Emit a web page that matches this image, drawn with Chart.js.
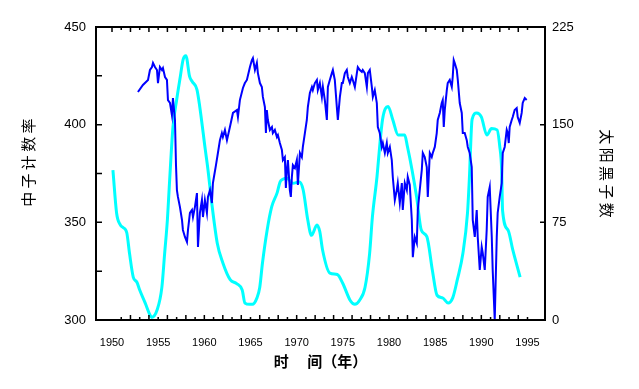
<!DOCTYPE html>
<html>
<head>
<meta charset="utf-8">
<script src="https://cdn.jsdelivr.net/npm/chart.js@4.4.1/dist/chart.umd.min.js"></script>
<style>
html,body{margin:0;padding:0;background:#fff;}
canvas{display:block;}
</style>
</head>
<body>
<canvas id="c" width="639" height="389"></canvas>
<script>
// ---- data ----
const xTickValues = [1950,1955,1960,1965,1970,1975,1980,1985,1990,1995];
const xTickLabels = ['1950','1955','1960','1965','1970','1975','1980','1985','1990','1995'];
const leftTickValues = [300,350,400,450];
const rightTickValues = [0,75,150,225];

const neutronYears = [1952.81,1953.35,1953.90,1954.11,1954.33,1954.44,1954.65,1954.87,1954.98,1955.19,1955.41,1955.52,1955.74,1955.95,1956.06,1956.28,1956.49,1956.60,1956.82,1956.93,1957.03,1957.14,1957.36,1957.58,1957.68,1957.90,1958.12,1958.23,1958.44,1958.66,1958.77,1958.98,1959.20,1959.31,1959.52,1959.74,1959.85,1960.06,1960.28,1960.39,1960.61,1960.82,1960.93,1961.04,1961.26,1961.47,1961.69,1961.90,1962.01,1962.23,1962.45,1962.77,1963.10,1963.53,1963.64,1963.85,1964.18,1964.39,1964.61,1964.94,1965.15,1965.26,1965.48,1965.69,1965.80,1966.02,1966.23,1966.34,1966.56,1966.67,1966.77,1966.88,1967.10,1967.32,1967.42,1967.64,1967.86,1967.97,1968.18,1968.40,1968.51,1968.72,1968.83,1968.94,1969.05,1969.26,1969.37,1969.48,1969.59,1969.81,1970.02,1970.13,1970.35,1970.56,1970.67,1970.89,1971.10,1971.21,1971.43,1971.65,1971.75,1971.97,1972.19,1972.29,1972.51,1972.73,1972.84,1973.05,1973.27,1973.38,1973.59,1973.81,1973.92,1974.13,1974.35,1974.46,1974.68,1974.89,1975.00,1975.22,1975.43,1975.54,1975.76,1975.97,1976.08,1976.30,1976.52,1976.62,1976.84,1977.06,1977.16,1977.38,1977.60,1977.71,1977.92,1978.14,1978.25,1978.46,1978.68,1978.79,1979.00,1979.22,1979.33,1979.55,1979.76,1979.87,1980.09,1980.30,1980.41,1980.63,1980.84,1980.95,1981.17,1981.39,1981.49,1981.71,1981.93,1982.03,1982.25,1982.47,1982.58,1982.79,1983.01,1983.12,1983.33,1983.55,1983.66,1983.87,1984.09,1984.20,1984.42,1984.63,1984.74,1984.96,1985.17,1985.28,1985.50,1985.71,1985.82,1985.93,1986.04,1986.26,1986.36,1986.58,1986.80,1986.90,1987.01,1987.12,1987.34,1987.45,1987.66,1987.88,1987.99,1988.20,1988.42,1988.53,1988.74,1988.96,1989.07,1989.29,1989.50,1989.61,1989.83,1990.04,1990.15,1990.37,1990.58,1990.69,1990.91,1991.13,1991.23,1991.45,1991.67,1991.77,1991.99,1992.21,1992.32,1992.53,1992.75,1992.86,1992.97,1993.07,1993.29,1993.40,1993.61,1993.83,1993.94,1994.16,1994.37,1994.48,1994.70,1994.91];
const neutronRate = [416.7,420.3,422.9,428.0,429.5,431.6,429.5,428.0,421.3,429.5,428.0,429.0,424.4,422.9,412.6,411.1,404.9,413.6,402.4,379.3,366.5,363.0,357.8,351.2,346.1,342.5,339.9,346.1,354.8,356.3,352.7,357.8,365.0,337.4,354.8,361.4,352.7,361.4,354.8,363.0,366.5,359.9,370.1,373.2,379.3,385.5,392.1,395.7,393.7,397.3,392.1,398.8,406.0,407.5,403.9,412.6,418.8,421.3,422.9,429.5,433.1,434.1,428.0,431.6,426.4,421.3,419.3,414.2,409.0,395.7,407.5,402.4,397.3,398.8,395.7,397.3,393.7,394.7,390.6,387.0,381.9,383.4,367.6,376.8,381.9,366.5,363.0,373.2,379.3,377.8,381.9,369.1,385.5,383.4,388.6,395.7,402.4,409.0,416.2,419.3,417.7,421.3,422.9,417.7,421.3,414.2,419.3,412.6,402.4,419.3,422.9,426.4,428.0,422.9,409.0,402.4,414.2,421.3,421.3,426.4,428.0,424.4,421.3,424.4,422.9,419.3,426.4,429.5,428.0,427.0,428.0,426.4,419.3,426.4,428.0,419.3,414.2,417.7,411.1,398.8,395.7,388.6,390.6,385.5,390.6,385.5,388.6,381.9,373.2,361.4,366.5,370.1,359.9,370.1,356.3,370.1,366.5,373.2,369.1,351.2,332.2,342.5,339.4,356.3,366.5,376.8,385.5,383.4,378.3,363.0,385.5,383.4,385.5,388.6,395.7,402.4,406.0,411.1,412.6,398.8,407.5,417.7,421.3,422.9,419.3,424.4,433.1,431.6,428.0,422.9,411.1,406.0,395.7,395.7,392.1,388.6,385.5,378.3,351.2,342.5,356.3,342.5,325.6,337.4,334.3,325.6,346.1,363.0,368.1,342.5,325.6,300.0,342.5,354.8,363.0,370.1,385.5,388.6,397.3,395.7,390.6,398.8,402.4,403.9,407.5,408.5,403.9,400.9,406.0,411.1,413.6,412.6];

const sunspotYears = [1950.1,1950.5,1950.9,1951.2,1951.6,1951.9,1952.3,1952.7,1953.0,1953.6,1954.1,1954.3,1954.9,1955.4,1955.7,1956.0,1956.2,1956.6,1957.0,1957.4,1957.7,1958.0,1958.4,1958.7,1959.2,1959.5,1960.1,1960.4,1960.8,1961.4,1962.0,1962.8,1963.5,1964.1,1964.4,1964.9,1965.2,1965.7,1966.0,1966.3,1966.8,1967.3,1967.9,1968.2,1968.5,1968.9,1969.6,1970.3,1970.7,1971.2,1971.6,1972.2,1972.5,1972.8,1973.6,1974.4,1975.0,1975.8,1976.3,1976.8,1977.4,1977.9,1978.2,1978.7,1978.8,1979.3,1979.9,1980.4,1981.0,1981.7,1982.0,1982.5,1983.0,1983.5,1984.1,1984.7,1985.2,1985.8,1986.4,1986.9,1987.4,1988.0,1988.5,1988.7,1989.0,1989.5,1990.0,1990.6,1991.1,1991.7,1992.0,1992.2,1992.3,1992.9,1993.4,1994.2];
const sunspotNumber = [115,82,73,71,67,51,33,29,23,13,4,2,8,25,51,77,102,148,169,187,200,203,187,183,177,164,131,115,90,59,44,31,28,23,13,12,12,17,25,44,69,87,98,106,108,109,105,106,100,77,65,73,68,54,36,35,28,15,12,15,25,51,79,110,118,154,164,154,142,142,133,115,94,69,64,38,19,17,13,17,31,51,82,108,154,159,156,142,147,146,133,115,84,69,54,33];

const neutronPoints = neutronYears.map((x, i) => ({x, y: neutronRate[i]}));
const sunspotPoints = sunspotYears.map((x, i) => ({x, y: sunspotNumber[i]}));

const tickFont = {family: "'Liberation Sans', Arial, sans-serif", size: 13};
const cjk = "'Noto Sans CJK SC', sans-serif";

const frameTicks = {
  id: 'frameTicks',
  afterDraw(chart) {
    const {ctx, chartArea: a, scales} = chart;
    ctx.save();
    ctx.strokeStyle = '#000';
    ctx.lineWidth = 2;
    ctx.strokeRect(a.left, a.top, a.right - a.left, a.bottom - a.top);
    ctx.lineWidth = 1.5;
    ctx.beginPath();
    for (let v = 325; v < 450; v += 25) {
      const y = scales.y.getPixelForValue(v);
      ctx.moveTo(a.left, y); ctx.lineTo(a.left + 6, y);
    }
    [75, 150].forEach(v => {
      const y = scales.y2.getPixelForValue(v);
      ctx.moveTo(a.right, y); ctx.lineTo(a.right - 5, y);
    });
    for (let yr = 1950; yr <= 1995; yr++) {
      const x = scales.x.getPixelForValue(yr);
      const len = yr % 2 === 0 ? 5 : 3;
      ctx.moveTo(x, a.top); ctx.lineTo(x, a.top + len);
      if (yr >= 1951) { ctx.moveTo(x, a.bottom); ctx.lineTo(x, a.bottom - len); }
    }
    ctx.stroke();
    ctx.restore();
  }
};

new Chart(document.getElementById('c'), {
  type: 'line',
  data: {
    datasets: [
      {label: '中子计数率', data: neutronPoints, yAxisID: 'y', borderColor: '#0000FF', borderWidth: 2, pointRadius: 0, tension: 0, fill: false},
      {label: '太阳黑子数', data: sunspotPoints, yAxisID: 'y2', borderColor: '#00FFFF', borderWidth: 3, pointRadius: 0, cubicInterpolationMode: 'monotone', fill: false}
    ]
  },
  options: {
    responsive: false,
    animation: false,
    devicePixelRatio: 1,
    layout: {padding: {top: 27, left: 0, right: 0, bottom: 0}},
    plugins: {legend: {display: false}, tooltip: {enabled: false}},
    scales: {
      x: {
        type: 'linear', position: 'bottom', min: 1948.267, max: 1996.895,
        afterBuildTicks: s => { s.ticks = xTickValues.map(v => ({value: v})); },
        afterFit: s => { s.height = 69; },
        grid: {display: false, drawTicks: false},
        border: {display: false},
        ticks: {font: {family: tickFont.family, size: 11}, color: '#000', padding: 16, maxRotation: 0, autoSkip: false,
          callback: (v) => { const i = xTickValues.indexOf(v); return i >= 0 ? xTickLabels[i] : ''; }},
        title: {display: true, text: '时　 间（年）', color: '#000', font: {family: cjk, size: 15, weight: 'bold'}, padding: {top: 0, bottom: 19}}
      },
      y: {
        type: 'linear', position: 'left', min: 300, max: 450,
        afterBuildTicks: s => { s.ticks = leftTickValues.map(v => ({value: v})); },
        afterFit: s => { s.width = 96; },
        grid: {display: false, drawTicks: false},
        border: {display: false},
        ticks: {font: tickFont, color: '#000', padding: 10},
        title: {display: true, text: '　  中 子 计 数 率', color: '#000', font: {family: cjk, size: 15}, padding: {top: 19.5, bottom: 0}}
      },
      y2: {
        type: 'linear', position: 'right', min: 0, max: 225,
        afterBuildTicks: s => { s.ticks = rightTickValues.map(v => ({value: v})); },
        afterFit: s => { s.width = 94; },
        grid: {display: false, drawTicks: false},
        border: {display: false},
        ticks: {font: tickFont, color: '#000', padding: 7},
        title: {display: true, text: '太 阳 黑 子 数', color: '#000', font: {family: cjk, size: 15}, padding: {top: 23, bottom: 0}}
      }
    }
  },
  plugins: [frameTicks]
});
</script>
</body>
</html>
